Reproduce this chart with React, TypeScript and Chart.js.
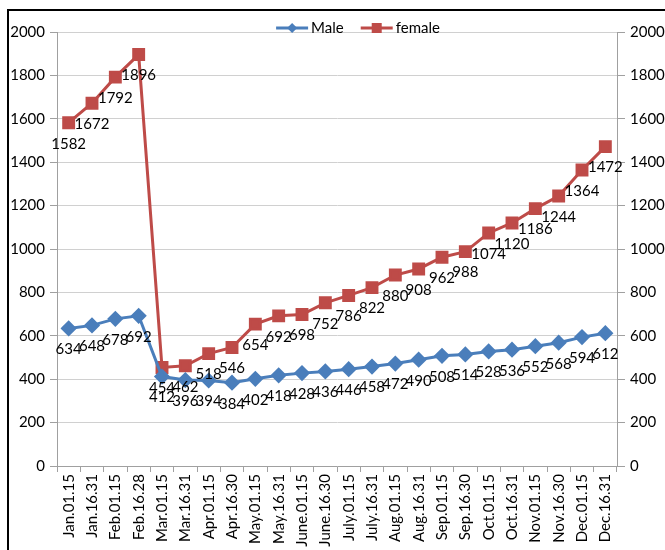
import React, { useEffect, useRef } from "react";
import { Chart, registerables } from "chart.js";
Chart.register(...registerables);

const categories = [
  "Jan.01.15", "Jan.16.31", "Feb.01.15", "Feb.16.28", "Mar.01.15", "Mar.16.31",
  "Apr.01.15", "Apr.16.30", "May.01.15", "May.16.31", "June.01.15", "June.16.30",
  "July.01.15", "July.16.31", "Aug.01.15", "Aug.16.31", "Sep.01.15", "Sep.16.30",
  "Oct.01.15", "Oct.16.31", "Nov.01.15", "Nov.16.30", "Dec.01.15", "Dec.16.31",
];
const maleValues = [634, 648, 678, 692, 412, 396, 394, 384, 402, 418, 428, 436, 446, 458, 472, 490, 508, 514, 528, 536, 552, 568, 594, 612];
const femaleValues = [1582, 1672, 1792, 1896, 454, 462, 518, 546, 654, 692, 698, 752, 786, 822, 880, 908, 962, 988, 1074, 1120, 1186, 1244, 1364, 1472];
const seriesNames = ["Male", "female"];
const yMin = 0;
const yMax = 2000;
const yStep = 200;

const FONT = "Lato, 'Open Sans', sans-serif";
const BLUE = "#4a7ebb";
const RED = "#be4b48";

const pointLabelPlugin = {
  id: "pointLabelPlugin",
  afterDatasetsDraw(chart: any) {
    const ctx = chart.ctx;
    ctx.save();
    ctx.font = `15px ${FONT}`;
    ctx.fillStyle = "#000";
    ctx.textAlign = "center";
    ctx.textBaseline = "middle";
    chart.data.datasets.forEach((ds: any, i: number) => {
      const meta = chart.getDatasetMeta(i);
      meta.data.forEach((pt: any, j: number) => {
        ctx.fillText(String(ds.data[j]), pt.x, pt.y + 21);
      });
    });
    ctx.restore();
  },
};

const legendPlugin = {
  id: "excelLegend",
  afterDraw(chart: any) {
    const ctx = chart.ctx;
    ctx.save();
    ctx.font = `15px ${FONT}`;
    ctx.textBaseline = "middle";
    ctx.textAlign = "left";
    const lineW = 32;
    const gap = 3;
    const itemGap = 17;
    const items = chart.data.datasets.map((ds: any) => ({
      ds,
      w: lineW + gap + ctx.measureText(ds.label).width,
    }));
    const total = items.reduce((s: number, it: any) => s + it.w, 0) + itemGap * (items.length - 1);
    const cx = (chart.chartArea.left + chart.chartArea.right) / 2 + 21;
    let x = cx - total / 2;
    const y = chart.chartArea.top - 4;
    items.forEach((it: any) => {
      const ds = it.ds;
      ctx.strokeStyle = ds.borderColor;
      ctx.lineWidth = 3;
      ctx.beginPath();
      ctx.moveTo(x, y);
      ctx.lineTo(x + lineW, y);
      ctx.stroke();
      ctx.fillStyle = ds.pointBackgroundColor;
      const mx = x + lineW / 2;
      if (ds.pointStyle === "rectRot") {
        const r = 5;
        ctx.beginPath();
        ctx.moveTo(mx, y - r);
        ctx.lineTo(mx + r, y);
        ctx.lineTo(mx, y + r);
        ctx.lineTo(mx - r, y);
        ctx.closePath();
        ctx.fill();
      } else {
        ctx.fillRect(mx - 5, y - 5, 10, 10);
      }
      ctx.fillStyle = "#000";
      ctx.fillText(ds.label, x + lineW + gap, y);
      x += it.w + itemGap;
    });
    ctx.restore();
  },
};

export default function App() {
  const ref = useRef<HTMLCanvasElement | null>(null);
  useEffect(() => {
    if (!ref.current) return;
    const tickFont = { family: FONT, size: 15 };
    const plain = (v: any) => String(v);
    const chart = new Chart(ref.current, {
      type: "line",
      data: {
        labels: categories,
        datasets: [
          {
            label: seriesNames[0],
            data: maleValues,
            borderColor: BLUE,
            backgroundColor: BLUE,
            pointBackgroundColor: BLUE,
            pointBorderColor: BLUE,
            pointStyle: "rectRot",
            pointRadius: 6,
            borderWidth: 3,
            tension: 0,
            yAxisID: "y",
          },
          {
            label: seriesNames[1],
            data: femaleValues,
            borderColor: RED,
            backgroundColor: RED,
            pointBackgroundColor: RED,
            pointBorderColor: RED,
            pointStyle: "rect",
            pointRadius: 7,
            borderWidth: 3,
            tension: 0,
            yAxisID: "y",
          },
        ],
      },
      options: {
        responsive: false,
        animation: false,
        devicePixelRatio: 1,
        layout: { padding: { top: 21, left: 0, right: 0, bottom: 0 } },
        plugins: { legend: { display: false }, tooltip: { enabled: false } },
        scales: {
          x: {
            offset: true,
            grid: { offset: true, drawOnChartArea: false, drawTicks: true, tickLength: 6, color: "#a0a0a0" },
            border: { color: "#a0a0a0" },
            ticks: { font: tickFont, color: "#000", minRotation: 90, maxRotation: 90, padding: 2, autoSkip: false },
            afterFit: (s: any) => { s.height = 84; },
          },
          y: {
            position: "left",
            min: yMin,
            max: yMax,
            ticks: { stepSize: yStep, font: tickFont, color: "#000", padding: 5, callback: plain },
            grid: { color: "#d0d0d0", tickLength: 7, tickColor: "#a0a0a0" },
            border: { color: "#a0a0a0" },
            afterFit: (s: any) => { s.width = 48; },
          },
          y2: {
            position: "right",
            min: yMin,
            max: yMax,
            ticks: { stepSize: yStep, font: tickFont, color: "#000", padding: 5, callback: plain },
            grid: { drawOnChartArea: false, tickLength: 8, color: "#a0a0a0" },
            border: { color: "#a0a0a0" },
            afterFit: (s: any) => { s.width = 48; },
          },
        },
      },
      plugins: [pointLabelPlugin, legendPlugin],
    } as any);
    return () => chart.destroy();
  }, []);
  return (
    <div
      style={{
        position: "fixed",
        left: 7,
        top: 9,
        width: 658,
        height: 541,
        borderLeft: "2px solid #000",
        borderTop: "2px solid #000",
        boxSizing: "border-box",
        background: "#fff",
      }}
    >
      <canvas ref={ref} width={656} height={539} style={{ display: "block" }} />
    </div>
  );
}
